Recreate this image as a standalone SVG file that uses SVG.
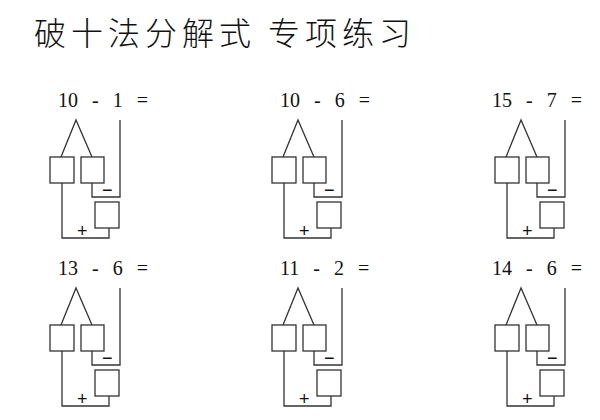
<svg xmlns="http://www.w3.org/2000/svg" xmlns:xlink="http://www.w3.org/1999/xlink" width="600" height="420" viewBox="0 0 600 420">
<style>
.t{font-family:"Noto Sans CJK SC",sans-serif;font-size:32px;font-weight:300;fill:#111}
.e{font-family:"Liberation Serif",serif;font-size:20px;fill:#111;word-spacing:9px}
.s{font-family:"Liberation Sans",sans-serif;font-size:18px;fill:#111}
.l{fill:none;stroke:#333;stroke-width:1.3}
</style>
<defs>
<g id="u">
<path class="l" d="M61,157 L76,120 L92,157"/>
<rect class="l" x="50" y="157" width="24" height="26"/>
<rect class="l" x="81" y="157" width="23" height="26"/>
<path class="l" d="M120,120 V197 H92 V183"/>
<rect class="l" x="95" y="202" width="24" height="26"/>
<path class="l" d="M62,183 V238 H109 V228"/>
<text class="s" x="102" y="196">−</text>
<text class="s" x="77" y="237">+</text>
</g>
</defs>
<rect width="600" height="420" fill="#fff"/>
<text class="t" x="34" y="45" letter-spacing="5" xml:space="preserve">破十法分解式 专项练习</text>
<g id="p1"><text class="e" x="58" y="107">10 - 1 =</text><use xlink:href="#u"/></g>
<g id="p2" transform="translate(222,0)"><text class="e" x="58" y="107">10 - 6 =</text><use xlink:href="#u"/></g>
<g id="p3" transform="translate(445,0)"><text class="e" x="47" y="107">15 - 7 =</text><use xlink:href="#u"/></g>
<g id="p4" transform="translate(0,168)"><text class="e" x="58" y="107">13 - 6 =</text><use xlink:href="#u"/></g>
<g id="p5" transform="translate(222,168)"><text class="e" x="58" y="107">11 - 2 =</text><use xlink:href="#u"/></g>
<g id="p6" transform="translate(445,168)"><text class="e" x="47" y="107">14 - 6 =</text><use xlink:href="#u"/></g>
</svg>
